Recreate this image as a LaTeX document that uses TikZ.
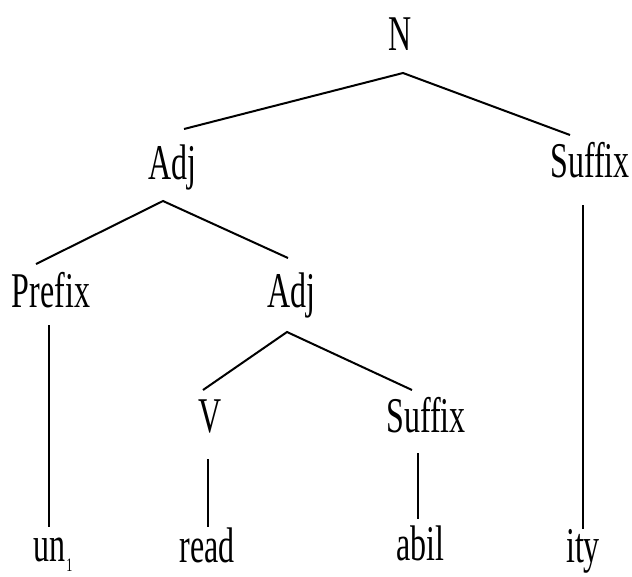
\documentclass[tikz,border=0pt]{standalone}
\usepackage{fontspec}
\setmainfont{Liberation Serif}[FakeStretch=0.64]
\begin{document}
\begin{tikzpicture}[x=1pt,y=-1pt,
  lbl/.style={anchor=base,inner sep=0pt,font=\fontsize{50}{60}\selectfont},
  branch/.style={line width=2pt}]
\useasboundingbox (0,0) rectangle (632,576);

% category labels
\node[lbl] (N)    at (400,50)  {N};
\node[lbl] (adjA) at (172,179) {Adj};
\node[lbl] (sufA) at (590,177) {Suffix};
\node[lbl] (pre)  at (51,307)  {Prefix};
\node[lbl] (adjB) at (291,307) {Adj};
\node[lbl] (V)    at (210,432) {V};
\node[lbl] (sufB) at (426,432) {Suffix};

% morphemes
\node[lbl] (un)   at (53,561)  {un\kern1pt\raisebox{-10pt}{\fontsize{19}{21}\selectfont 1}};
\node[lbl] (read) at (207,562) {read};
\node[lbl] (abil) at (420,560) {abil};
\node[lbl] (ity)  at (583,562) {ity};

% attachment points of the branches
\coordinate (N-b)     at (403,73);
\coordinate (adjA-t)  at (184,129);
\coordinate (sufA-t)  at (570,135);
\coordinate (adjA-b)  at (163,201);
\coordinate (pre-t)   at (36,264);
\coordinate (adjB-t)  at (288,258);
\coordinate (sufA-b)  at (583,205);
\coordinate (ity-t)   at (583,529);
\coordinate (pre-b)   at (49,325);
\coordinate (un-t)    at (49,527);
\coordinate (adjB-b)  at (287,332);
\coordinate (V-t)     at (203,390);
\coordinate (sufB-t)  at (412,390);
\coordinate (V-b)     at (208,459);
\coordinate (read-t)  at (208,527);
\coordinate (sufB-b)  at (418,453);
\coordinate (abil-t)  at (418,519);

% branches
\draw[branch] (adjA-t) -- (N-b) -- (sufA-t);
\draw[branch] (pre-t) -- (adjA-b) -- (adjB-t);
\draw[branch] (sufA-b) -- (ity-t);
\draw[branch] (pre-b) -- (un-t);
\draw[branch] (V-t) -- (adjB-b) -- (sufB-t);
\draw[branch] (V-b) -- (read-t);
\draw[branch] (sufB-b) -- (abil-t);
\end{tikzpicture}
\end{document}
